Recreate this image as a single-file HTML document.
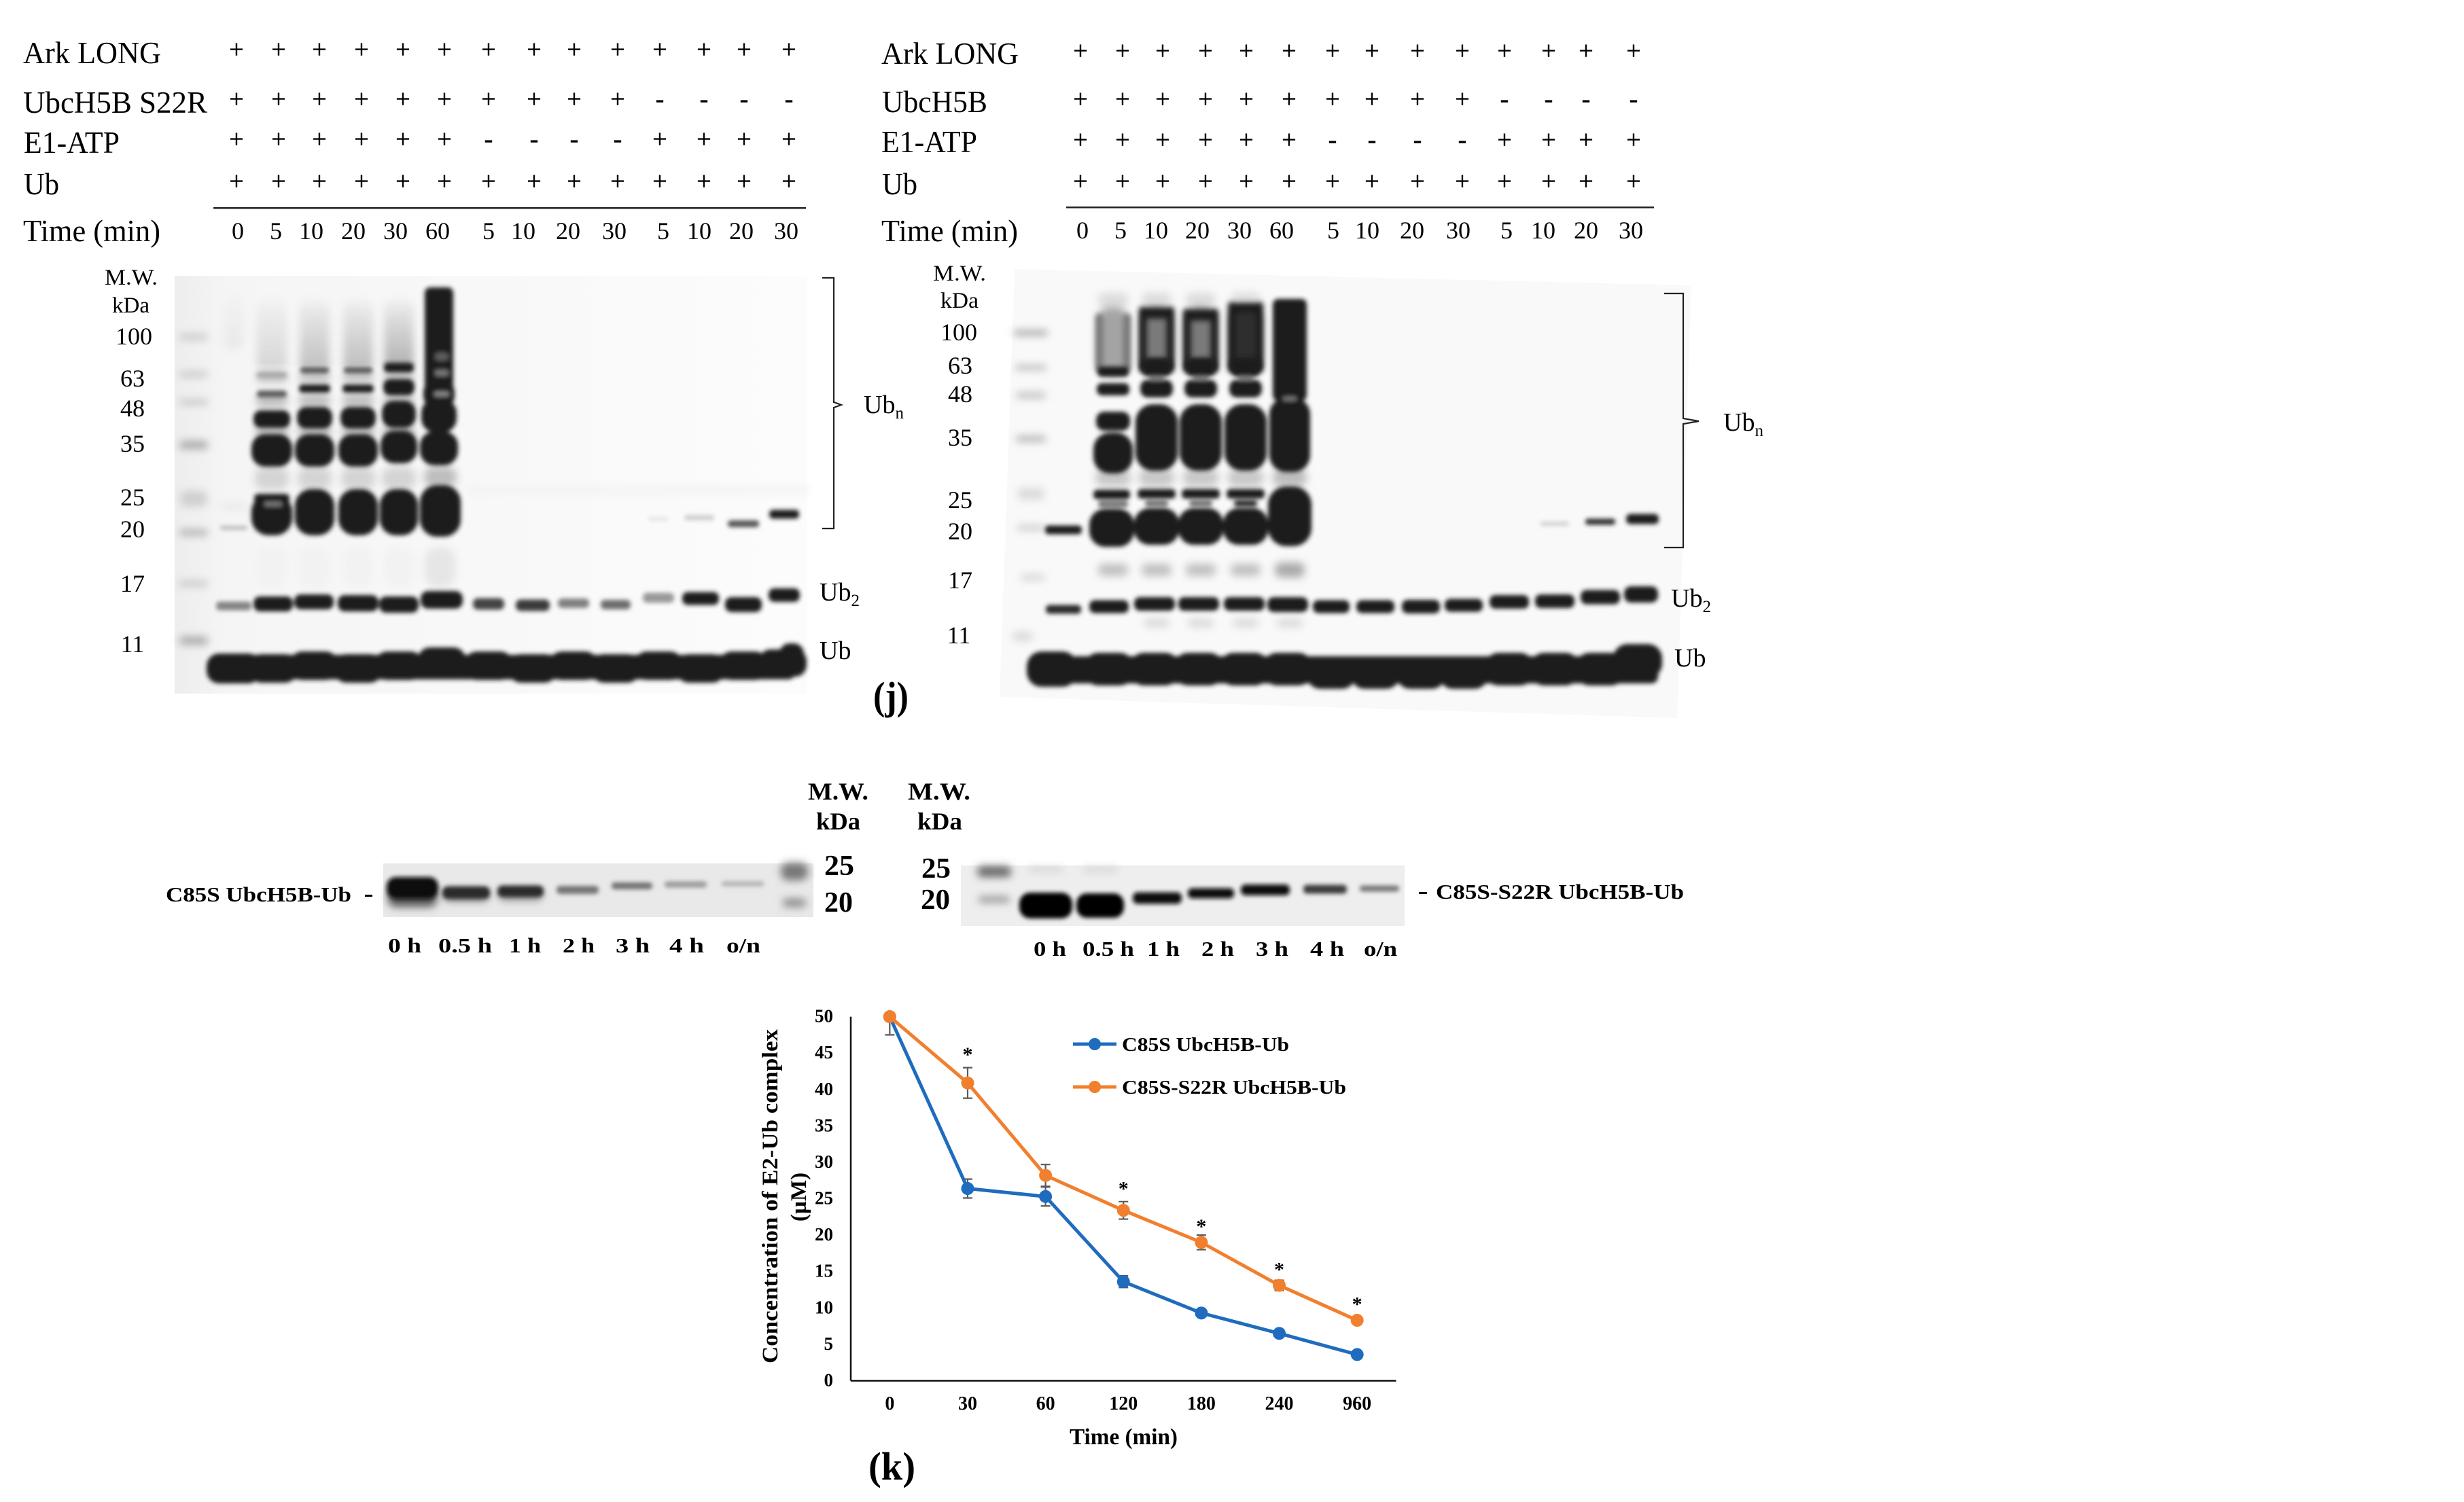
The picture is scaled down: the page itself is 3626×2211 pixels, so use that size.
<!DOCTYPE html>
<html lang="en">
<head>
<meta charset="utf-8">
<title>Ubiquitination blots and E2-Ub discharge chart</title>
<style>
html,body{margin:0;padding:0;background:#fff;}
svg{display:block;}
text{font-family:"Liberation Serif",serif;fill:#000;}
.lab{font-size:45px;}
.sign{font-size:38px;text-anchor:middle;stroke:#000;stroke-width:.5px;}
.tm{font-size:36px;text-anchor:middle;}
.mw{font-size:33px;}
.kd{font-size:36px;text-anchor:middle;}
.bd{font-weight:bold;}
.bt{font-size:31px;font-weight:bold;}
.bn{font-size:42px;font-weight:bold;}
</style>
</head>
<body>
<svg id="page" xmlns="http://www.w3.org/2000/svg" width="3626" height="2211" viewBox="0 0 3626 2211">
<defs>
<filter id="b2" x="-30%" y="-30%" width="160%" height="160%"><feGaussianBlur stdDeviation="3.2"/></filter>
<filter id="b3" x="-40%" y="-30%" width="180%" height="160%"><feGaussianBlur stdDeviation="4"/></filter>
<filter id="b5" x="-30%" y="-30%" width="160%" height="160%"><feGaussianBlur stdDeviation="6"/></filter>
<linearGradient id="lg" x1="0" x2="1" y1="0" y2="0"><stop offset="0" stop-color="#ededed"/><stop offset=".08" stop-color="#f5f5f5"/><stop offset="1" stop-color="#fcfcfc"/></linearGradient>
<linearGradient id="smear" x1="0" x2="0" y1="0" y2="1"><stop offset="0" stop-color="#000" stop-opacity="0"/><stop offset=".25" stop-color="#000" stop-opacity=".1"/><stop offset="1" stop-color="#000" stop-opacity=".32"/></linearGradient>
</defs>
<rect width="3626" height="2211" fill="#fff"/>

<g>
<text class="lab" x="34" y="93" textLength="203" lengthAdjust="spacingAndGlyphs">Ark LONG</text>
<text class="lab" x="34" y="166" textLength="271" lengthAdjust="spacingAndGlyphs">UbcH5B S22R</text>
<text class="lab" x="35" y="225" textLength="141" lengthAdjust="spacingAndGlyphs">E1-ATP</text>
<text class="lab" x="35" y="286" textLength="52" lengthAdjust="spacingAndGlyphs">Ub</text>
<text class="lab" x="34" y="355" textLength="202" lengthAdjust="spacingAndGlyphs">Time (min)</text>
<text class="sign" y="85" x="348 410 470 532 593 654 719 786 845 909 971 1036 1095 1161">++++++++++++++</text>
<text class="sign" y="158" x="348 410 470 532 593 654 719 786 845 909 971 1036 1095 1161">++++++++++----</text>
<text class="sign" y="217" x="348 410 470 532 593 654 719 786 845 909 971 1036 1095 1161">++++++----++++</text>
<text class="sign" y="279" x="348 410 470 532 593 654 719 786 845 909 971 1036 1095 1161">++++++++++++++</text>
<rect x="314" y="305" width="872" height="2.5" fill="#222"/>
<g>
<text class="tm" x="350" y="352">0</text><text class="tm" x="406" y="352">5</text><text class="tm" x="458" y="352">10</text><text class="tm" x="520" y="352">20</text><text class="tm" x="582" y="352">30</text><text class="tm" x="644" y="352">60</text><text class="tm" x="719" y="352">5</text><text class="tm" x="770" y="352">10</text><text class="tm" x="836" y="352">20</text><text class="tm" x="904" y="352">30</text><text class="tm" x="976" y="352">5</text><text class="tm" x="1029" y="352">10</text><text class="tm" x="1091" y="352">20</text><text class="tm" x="1157" y="352">30</text>
</g>
</g>

<g>
<text class="lab" x="1297" y="94" textLength="202" lengthAdjust="spacingAndGlyphs">Ark LONG</text>
<text class="lab" x="1298" y="165" textLength="155" lengthAdjust="spacingAndGlyphs">UbcH5B</text>
<text class="lab" x="1297" y="224" textLength="141" lengthAdjust="spacingAndGlyphs">E1-ATP</text>
<text class="lab" x="1298" y="286" textLength="52" lengthAdjust="spacingAndGlyphs">Ub</text>
<text class="lab" x="1297" y="355" textLength="201" lengthAdjust="spacingAndGlyphs">Time (min)</text>
<text class="sign" y="87" x="1590 1652 1711 1774 1834 1897 1961 2019 2086 2152 2214 2279 2334 2404">++++++++++++++</text>
<text class="sign" y="158" x="1590 1652 1711 1774 1834 1897 1961 2019 2086 2152 2214 2279 2334 2404">++++++++++----</text>
<text class="sign" y="218" x="1590 1652 1711 1774 1834 1897 1961 2019 2086 2152 2214 2279 2334 2404">++++++----++++</text>
<text class="sign" y="279" x="1590 1652 1711 1774 1834 1897 1961 2019 2086 2152 2214 2279 2334 2404">++++++++++++++</text>
<rect x="1569" y="304" width="865" height="2.5" fill="#222"/>
<g>
<text class="tm" x="1593" y="351">0</text><text class="tm" x="1649" y="351">5</text><text class="tm" x="1701" y="351">10</text><text class="tm" x="1762" y="351">20</text><text class="tm" x="1824" y="351">30</text><text class="tm" x="1886" y="351">60</text><text class="tm" x="1962" y="351">5</text><text class="tm" x="2012" y="351">10</text><text class="tm" x="2078" y="351">20</text><text class="tm" x="2146" y="351">30</text><text class="tm" x="2217" y="351">5</text><text class="tm" x="2271" y="351">10</text><text class="tm" x="2334" y="351">20</text><text class="tm" x="2400" y="351">30</text>
</g>
</g>

<g id="gelL">
<rect x="257" y="406" width="931" height="615" fill="url(#lg)"/>
</g>
<g id="gelR">
<polygon points="1493,396 2489,420 2468,1057 1471,1026" fill="#f9f9f9"/>
</g>

<g>
<text class="mw" x="154" y="419" textLength="78" lengthAdjust="spacingAndGlyphs">M.W.</text>
<text class="mw" x="165" y="460" textLength="55" lengthAdjust="spacingAndGlyphs">kDa</text>
<text class="kd" x="197" y="507">100</text>
<text class="kd" x="195" y="569">63</text>
<text class="kd" x="195" y="613">48</text>
<text class="kd" x="195" y="665">35</text>
<text class="kd" x="195" y="744">25</text>
<text class="kd" x="195" y="791">20</text>
<text class="kd" x="195" y="871">17</text>
<text class="kd" x="195" y="960">11</text>
</g>
<g>
<text class="mw" x="1373" y="413" textLength="78" lengthAdjust="spacingAndGlyphs">M.W.</text>
<text class="mw" x="1384" y="453" textLength="56" lengthAdjust="spacingAndGlyphs">kDa</text>
<text class="kd" x="1411" y="501">100</text>
<text class="kd" x="1413" y="550">63</text>
<text class="kd" x="1413" y="592">48</text>
<text class="kd" x="1413" y="656">35</text>
<text class="kd" x="1413" y="748">25</text>
<text class="kd" x="1413" y="794">20</text>
<text class="kd" x="1413" y="866">17</text>
<text class="kd" x="1411" y="947">11</text>
</g>

<path d="M1210 409 H1227 V592 L1238 596 L1227 600 V778 H1210" fill="none" stroke="#222" stroke-width="2.2"/>
<text x="1271" y="608" font-size="38">Ub<tspan font-size="25" dy="8">n</tspan></text>
<text x="1206" y="884" font-size="38">Ub<tspan font-size="25" dy="8">2</tspan></text>
<text x="1206" y="970" font-size="38">Ub</text>
<path d="M2449 432 H2477 V616 L2500 620 L2477 624 V806 H2449" fill="none" stroke="#222" stroke-width="2.2"/>
<text x="2536" y="634" font-size="38">Ub<tspan font-size="25" dy="8">n</tspan></text>
<text x="2459" y="893" font-size="38">Ub<tspan font-size="25" dy="8">2</tspan></text>
<text x="2464" y="981" font-size="38">Ub</text>
<text x="1285" y="1044" font-size="58" font-weight="bold" textLength="52" lengthAdjust="spacingAndGlyphs">(j)</text>

<g id="midL">
<rect x="564" y="1271" width="633" height="79" fill="#e9e9e9"/>
</g>
<g id="midR">
<rect x="1414" y="1274" width="653" height="89" fill="#eeeeee"/>
</g>

<g>
<text class="bt" x="244" y="1327" textLength="273" lengthAdjust="spacingAndGlyphs">C85S UbcH5B-Ub</text>
<rect x="537" y="1317" width="11" height="3" fill="#000"/>
<text class="bt" x="571" y="1402" textLength="49" lengthAdjust="spacingAndGlyphs">0 h</text>
<text class="bt" x="645" y="1402" textLength="79" lengthAdjust="spacingAndGlyphs">0.5 h</text>
<text class="bt" x="749" y="1402" textLength="47" lengthAdjust="spacingAndGlyphs">1 h</text>
<text class="bt" x="828" y="1402" textLength="47" lengthAdjust="spacingAndGlyphs">2 h</text>
<text class="bt" x="906" y="1402" textLength="50" lengthAdjust="spacingAndGlyphs">3 h</text>
<text class="bt" x="985" y="1402" textLength="51" lengthAdjust="spacingAndGlyphs">4 h</text>
<text class="bt" x="1069" y="1402" textLength="50" lengthAdjust="spacingAndGlyphs">o/n</text>
<text class="bn" style="font-size:36px" x="1189" y="1177" textLength="89" lengthAdjust="spacingAndGlyphs">M.W.</text>
<text class="bn" style="font-size:36px" x="1201" y="1221" textLength="65" lengthAdjust="spacingAndGlyphs">kDa</text>
<text class="bn" x="1213" y="1288" textLength="44" lengthAdjust="spacingAndGlyphs">25</text>
<text class="bn" x="1213" y="1342" textLength="42" lengthAdjust="spacingAndGlyphs">20</text>
</g>
<g>
<text class="bn" style="font-size:36px" x="1336" y="1177" textLength="92" lengthAdjust="spacingAndGlyphs">M.W.</text>
<text class="bn" style="font-size:36px" x="1350" y="1221" textLength="66" lengthAdjust="spacingAndGlyphs">kDa</text>
<text class="bn" x="1356" y="1292" textLength="43" lengthAdjust="spacingAndGlyphs">25</text>
<text class="bn" x="1355" y="1338" textLength="43" lengthAdjust="spacingAndGlyphs">20</text>
<rect x="2088" y="1313" width="12" height="3" fill="#000"/>
<text class="bt" x="2113" y="1323" textLength="365" lengthAdjust="spacingAndGlyphs">C85S-S22R UbcH5B-Ub</text>
<text class="bt" x="1521" y="1407" textLength="48" lengthAdjust="spacingAndGlyphs">0 h</text>
<text class="bt" x="1593" y="1407" textLength="76" lengthAdjust="spacingAndGlyphs">0.5 h</text>
<text class="bt" x="1688" y="1407" textLength="48" lengthAdjust="spacingAndGlyphs">1 h</text>
<text class="bt" x="1768" y="1407" textLength="48" lengthAdjust="spacingAndGlyphs">2 h</text>
<text class="bt" x="1848" y="1407" textLength="48" lengthAdjust="spacingAndGlyphs">3 h</text>
<text class="bt" x="1928" y="1407" textLength="50" lengthAdjust="spacingAndGlyphs">4 h</text>
<text class="bt" x="2007" y="1407" textLength="49" lengthAdjust="spacingAndGlyphs">o/n</text>
</g>

<g id="chart">
<text transform="translate(1144 1761) rotate(-90)" text-anchor="middle" font-size="33" font-weight="bold" textLength="492" lengthAdjust="spacingAndGlyphs">Concentration of E2-Ub complex</text>
<text transform="translate(1186 1762) rotate(-90)" text-anchor="middle" font-size="33" font-weight="bold">(µM)</text>
<text x="1574" y="2126" font-size="34" font-weight="bold" textLength="159" lengthAdjust="spacingAndGlyphs">Time (min)</text>
<text x="1278" y="2178" font-size="58" font-weight="bold" textLength="69" lengthAdjust="spacingAndGlyphs">(k)</text>
<g>
<line x1="1579" x2="1643" y1="1537" y2="1537" stroke="#1f6cbf" stroke-width="5"/>
<circle cx="1611" cy="1537" r="9" fill="#1f6cbf"/>
<text x="1651" y="1547" font-size="28" font-weight="bold" textLength="246" lengthAdjust="spacingAndGlyphs">C85S UbcH5B-Ub</text>
<line x1="1579" x2="1643" y1="1600" y2="1600" stroke="#f27f2d" stroke-width="5"/>
<circle cx="1611" cy="1600" r="9" fill="#f27f2d"/>
<text x="1651" y="1610" font-size="28" font-weight="bold" textLength="330" lengthAdjust="spacingAndGlyphs">C85S-S22R UbcH5B-Ub</text>
</g>
</g>
</svg>
<script>
// ---------- chart data ----------
var categories = ['0', '30', '60', '120', '180', '240', '960'];
var yTickLabels = [0, 5, 10, 15, 20, 25, 30, 35, 40, 45, 50];
var c85sValues = [50, 26.4, 25.3, 13.6, 9.3, 6.5, 3.6];
var c85sErrors = [2.5, 1.3, 1.3, 0.8, 0.4, 0.4, 0.3];
var s22rValues = [50, 40.9, 28.2, 23.4, 19, 13.1, 8.3];
var s22rErrors = [0.3, 2.1, 1.5, 1.2, 1, 0.7, 0.3];
var significanceLevels = [null, 45.1, null, 26.7, 21.5, 15.6, 10.8];

var NS = 'http://www.w3.org/2000/svg';
var chart = document.getElementById('chart');
var plot = {left: 1252, right: 2054.5, top: 1496.6, bottom: 2032.5, yMax: 50};
function xScale(i) { return plot.left + (i + 0.5) * (plot.right - plot.left) / categories.length; }
function yScale(v) { return plot.bottom - v / plot.yMax * (plot.bottom - plot.top); }
function svgEl(tag, attrs, parent) {
  var el = document.createElementNS(NS, tag);
  for (var k in attrs) el.setAttribute(k, attrs[k]);
  parent.appendChild(el);
  return el;
}

var yAxis = svgEl('line', {x1: plot.left, x2: plot.left, y1: plot.top, y2: plot.bottom, stroke: '#111', 'stroke-width': 2.5}, chart);


var xAxis = svgEl('line', {x1: plot.left, x2: plot.right, y1: plot.bottom, y2: plot.bottom, stroke: '#111', 'stroke-width': 2.5}, chart);



yTickLabels.forEach(function (v) {
  var t = svgEl('text', {x: 1226, y: yScale(v) + 8, 'text-anchor': 'end', 'font-size': 27, 'font-weight': 'bold'}, chart);
  t.textContent = v;
  
  
});
categories.forEach(function (c, i) {
  var t = svgEl('text', {x: xScale(i), y: 2075, 'text-anchor': 'middle', 'font-size': 28, 'font-weight': 'bold'}, chart);
  t.textContent = c;
  
  
});

function drawSeries(values, errors, color, key) {
  errors.forEach(function (e, i) {
    var x = xScale(i), hi = yScale(Math.min(values[i] + e, plot.yMax)), lo = yScale(values[i] - e);
    var bar = svgEl('path', {d: 'M' + (x - 7) + ' ' + hi + 'H' + (x + 7) + 'M' + x + ' ' + hi + 'V' + lo + 'M' + (x - 7) + ' ' + lo + 'H' + (x + 7), fill: 'none', stroke: '#5a5a5a', 'stroke-width': 2.2}, chart);
    
    
  });
  var pts = values.map(function (v, i) { return xScale(i) + ',' + yScale(v); }).join(' ');
  var line = svgEl('polyline', {points: pts, fill: 'none', stroke: color, 'stroke-width': 5, 'stroke-linejoin': 'round'}, chart);
  
  
  values.forEach(function (v, i) {
    var p = svgEl('circle', {cx: xScale(i), cy: yScale(v), r: 9.5, fill: color}, chart);
    
    
  });
}
drawSeries(c85sValues, c85sErrors, '#1f6cbf', 'c85s');
drawSeries(s22rValues, s22rErrors, '#f27f2d', 'c85s-s22r');

significanceLevels.forEach(function (v, i) {
  if (v === null) return;
  var t = svgEl('text', {x: xScale(i), y: yScale(v) + 13, 'text-anchor': 'middle', 'font-size': 30, 'font-weight': 'bold'}, chart);
  t.textContent = '*';
  
  
});

// ---------- blot painting (image content, not chart marks) ----------
function layer(parentId, filter) {
  var g = svgEl('g', {filter: 'url(#' + filter + ')'}, document.getElementById(parentId));
  
  
  return g;
}
function band(g, cx, cy, w, h, fill, name, rx) {
  var r = svgEl('rect', {x: cx - w / 2, y: cy - h / 2, width: w, height: h, rx: rx === undefined ? Math.min(w, h) * 0.42 : rx, fill: fill}, g);
  
  
  return r;
}
var K = '#1a1a1a';

// left blot
var Ls = layer('gelL', 'b5'), Ld = layer('gelL', 'b2');
band(Ls, 344, 470, 30, 90, 'url(#smear)', 'lane-smear').setAttribute('opacity', '.15');
band(Ls, 344, 745, 40, 14, '#ececec', 'faint-band');
[[400, .45], [463, .75], [527, .8], [587, 1.05]].forEach(function (s) {
  band(Ls, s[0], 495, 44, 120, 'url(#smear)', 'ubn-smear').setAttribute('opacity', s[1]);
  band(Ls, s[0], 556, 46, 14, '#c2c2c2', 'ubn-smear');
  band(Ls, s[0], 590, 46, 20, '#c0c0c0', 'ubn-smear');
  band(Ls, s[0], 635, 48, 12, '#a9a9a9', 'ubn-smear');
  band(Ls, s[0], 704, 50, 34, '#d4d4d4', 'ubn-smear');
  band(Ls, s[0], 835, 44, 60, '#f2f2f2', 'ubn-smear');
});
band(Ls, 648, 835, 46, 60, '#e6e6e6', 'ubn-smear');
band(Ls, 648, 702, 48, 30, '#bdbdbd', 'ubn-smear');
[[263, 496], [263, 551], [263, 592], [263, 655], [263, 734], [263, 784], [263, 859], [263, 943]].forEach(function (m, i) {
  band(Ls, m[0] + 22, m[1], 42, i === 3 || i === 7 ? 12 : 8, i === 3 || i === 5 || i === 7 ? '#a8a8a8' : '#c4c4c4', 'ladder-band');
});
band(Ls, 285, 734, 40, 24, '#d0d0d0', 'ladder-band');
band(Ls, 840, 722, 310, 12, '#f3f3f3', 'faint-band');
band(Ls, 1040, 722, 300, 14, '#f4f4f4', 'faint-band');
// lane 1
band(Ld, 400, 552, 44, 8, '#a8a8a8', 'ubn-band');
band(Ld, 400, 580, 44, 10, '#5c5c5c', 'ubn-band');
band(Ld, 400, 617, 54, 26, K, 'ubn-band');
band(Ld, 400, 663, 60, 48, K, 'ubn-band');
band(Ld, 400, 758, 60, 60, K, 'ubn-band');
band(Ld, 400, 734, 52, 14, K, 'ubn-band');
band(Ld, 402, 742, 26, 7, '#777', 'ubn-band');
// lanes 2, 3
[463, 527].forEach(function (x) {
  band(Ld, x, 545, 42, 9, '#5a5a5a', 'ubn-band');
  band(Ld, x, 572, 46, 12, K, 'ubn-band');
  band(Ld, x, 615, 52, 32, K, 'ubn-band');
  band(Ld, x, 663, 58, 48, K, 'ubn-band');
  band(Ld, x, 754, 58, 68, K, 'ubn-band');
});
// lane 4
band(Ld, 587, 541, 44, 14, K, 'ubn-band');
band(Ld, 587, 570, 46, 24, K, 'ubn-band');
band(Ld, 587, 610, 50, 40, K, 'ubn-band');
band(Ld, 587, 658, 54, 48, K, 'ubn-band');
band(Ld, 587, 754, 56, 68, K, 'ubn-band');
// lane 5
band(Ld, 646, 498, 42, 150, K, 'ubn-band', 8);
band(Ld, 646, 580, 46, 40, K, 'ubn-band');
band(Ld, 646, 612, 52, 50, K, 'ubn-band');
band(Ld, 646, 660, 56, 50, K, 'ubn-band');
band(Ld, 648, 752, 60, 76, K, 'ubn-band');
band(Ld, 650, 525, 20, 12, '#5c5c5c', 'ubn-gap');
band(Ld, 650, 549, 20, 9, '#777', 'ubn-gap');
band(Ld, 650, 580, 22, 7, '#888', 'ubn-gap');
// 20 kDa & Ub2 & Ub
band(Ld, 344, 777, 40, 6, '#bbb', 'e2-ub-band');
band(Ld, 969, 764, 30, 6, '#e6e6e6', 'e2-ub-band');
band(Ld, 1029, 762, 44, 8, '#cfcfcf', 'e2-ub-band');
band(Ld, 1094, 771, 46, 10, '#555', 'e2-ub-band');
band(Ld, 1154, 757, 44, 13, K, 'e2-ub-band');
[[344, 892, 52, 13, '#858585'], [402, 889, 58, 22, K], [462, 886, 58, 22, K], [527, 888, 60, 24, K], [587, 890, 58, 24, K], [650, 883, 62, 26, K],
 [719, 889, 46, 17, '#444'], [784, 891, 50, 17, '#3a3a3a'], [844, 888, 46, 14, '#808080'], [906, 890, 44, 14, '#6d6d6d'], [969, 880, 46, 15, '#9a9a9a'],
 [1031, 881, 54, 19, K], [1094, 890, 54, 22, K], [1154, 876, 46, 20, K]].forEach(function (b) {
  band(Ld, b[0], b[1], b[2], b[3], b[4], 'ub2-band');
});
band(Ld, 344, 984, 80, 44, K, 'ub-band');
band(Ld, 760, 982, 820, 36, K, 'ub-band', 10);
[402, 462, 527, 587, 650, 719, 784, 844, 906, 969, 1031, 1094].forEach(function (x, i) {
  band(Ld, x, i === 4 ? 974 : (i % 2 ? 980 : 984), 70, 42, K, 'ub-band-lane');
});
band(Ld, 1152, 976, 70, 40, K, 'ub-band');
band(Ld, 1165, 966, 36, 38, K, 'ub-band');

// right blot
var Rs = layer('gelR', 'b5'), Rm = layer('gelR', 'b3'), Rd = layer('gelR', 'b2');
[[1638, '#a4a4a4'], [1702, '#7a7a7a'], [1767, '#7a7a7a'], [1833, '#555']].forEach(function (s) {
  band(Rs, s[0], 502, 44, 100, s[1], 'ubn-smear');
  band(Rs, s[0], 442, 44, 22, '#dcdcdc', 'ubn-smear');
  band(Rs, s[0], 703, 52, 26, '#c8c8c8', 'ubn-smear');
  band(Rs, s[0], 839, 44, 18, '#c0c0c0', 'ubn-smear');
});
band(Rs, 1898, 703, 50, 26, '#bcbcbc', 'ubn-smear');
band(Rs, 1898, 839, 44, 22, '#aaa', 'ubn-smear');
[1702, 1767, 1833, 1898].forEach(function (x) {
  band(Rs, x, 917, 38, 12, '#d8d8d8', 'faint-band');
});
band(Rs, 1517, 490, 50, 7, '#999', 'ladder-band');
band(Rs, 1517, 541, 46, 7, '#b2b2b2', 'ladder-band');
band(Rs, 1517, 582, 44, 8, '#b8b8b8', 'ladder-band');
band(Rs, 1517, 646, 44, 8, '#aaa', 'ladder-band');
band(Rs, 1517, 727, 40, 18, '#dcdcdc', 'ladder-band');
band(Rs, 1517, 777, 40, 6, '#bbb', 'ladder-band');
band(Rs, 1520, 850, 36, 8, '#d0d0d0', 'ladder-band');
band(Rs, 1505, 937, 30, 14, '#dadada', 'ladder-band');
// lane edges of the smears
[1638, 1702, 1767, 1833].forEach(function (x, i) {
  var top = [462, 452, 455, 445][i], hgt = 547 - top, c = i === 0 ? '#777' : K;
  band(Rm, x - 20, top + hgt / 2, 12, hgt, c, 'ubn-smear-edge', 4);
  band(Rm, x + 20, top + hgt / 2, 12, hgt, c, 'ubn-smear-edge', 4);
  if (i > 0) band(Rm, x, top + 9, 46, 16, K, 'ubn-smear-edge', 6);
  if (i === 3) band(Rm, x, 505, 30, 90, '#2d2d2d', 'ubn-smear-core', 6);
});
band(Rd, 1638, 547, 46, 15, K, 'ubn-band');
band(Rd, 1638, 573, 48, 18, K, 'ubn-band');
band(Rd, 1638, 620, 50, 28, K, 'ubn-band');
band(Rd, 1638, 667, 58, 60, K, 'ubn-band');
band(Rd, 1636, 728, 54, 14, K, 'ubn-band');
band(Rd, 1638, 742, 44, 10, '#777', 'ubn-band');
band(Rd, 1636, 777, 66, 56, K, 'ubn-band');
[1702, 1767, 1833].forEach(function (x) {
  band(Rd, x, 540, 46, 28, K, 'ubn-band');
  band(Rd, x, 572, 48, 26, K, 'ubn-band');
  band(Rd, x, 644, 62, 98, K, 'ubn-band');
  band(Rd, x, 727, 56, 14, K, 'ubn-band');
  band(Rd, x, 775, 66, 54, K, 'ubn-band');
  band(Rd, x, 741, 34, 8, x === 1833 ? K : '#666', 'ubn-band');
  band(Rd, x, 557, 22, 6, '#888', 'ubn-band');
});
band(Rd, 1898, 515, 50, 150, K, 'ubn-band', 8);
band(Rd, 1898, 640, 60, 110, K, 'ubn-band');
band(Rd, 1898, 760, 64, 88, K, 'ubn-band');
band(Rd, 1898, 587, 20, 6, '#777', 'ubn-band');
band(Rd, 1565, 780, 54, 13, K, 'e2-ub-band');
band(Rd, 2288, 771, 42, 6, '#d0d0d0', 'e2-ub-band');
band(Rd, 2355, 768, 44, 9, '#2e2e2e', 'e2-ub-band');
band(Rd, 2417, 764, 48, 15, K, 'e2-ub-band');
[[1565, 897, 52, 13, '#2a2a2a'], [1632, 893, 58, 19, K], [1699, 889, 60, 20, K], [1764, 889, 60, 20, K], [1831, 889, 60, 20, K], [1895, 890, 60, 22, K],
 [1959, 893, 54, 19, K], [2024, 893, 56, 19, K], [2091, 893, 56, 20, K], [2154, 891, 56, 19, K], [2221, 886, 58, 20, K], [2288, 885, 58, 20, K], [2355, 879, 58, 21, K], [2415, 875, 50, 24, K]].forEach(function (b) {
  band(Rd, b[0], b[1], b[2], b[3], b[4], 'ub2-band');
});
band(Rd, 1980, 986, 920, 40, K, 'ub-band', 10);
band(Rd, 1548, 985, 74, 52, K, 'ub-band');
[1632, 1699, 1764, 1831, 1895, 1959, 2024, 2091, 2154, 2221, 2288, 2355].forEach(function (x, i) {
  band(Rd, x, i > 4 && i < 9 ? 990 : 985, 72, 48, K, 'ub-band-lane');
});
band(Rd, 2410, 973, 72, 50, K, 'ub-band');

// C85S blot
var Ms = layer('midL', 'b5'), Md = layer('midL', 'b2');
band(Ms, 607, 1322, 72, 26, '#555', 'c85s-band');
band(Ms, 686, 1318, 66, 18, '#888', 'c85s-band');
band(Ms, 766, 1318, 64, 16, '#999', 'c85s-band');
band(Md, 607, 1307, 76, 32, '#0d0d0d', 'c85s-band');
band(Md, 686, 1314, 70, 18, '#2c2c2c', 'c85s-band');
band(Md, 766, 1312, 68, 17, '#2a2a2a', 'c85s-band');
band(Md, 850, 1310, 62, 12, '#737373', 'c85s-band');
band(Md, 930, 1304, 60, 10, '#6f6f6f', 'c85s-band');
band(Md, 1009, 1302, 62, 9, '#999', 'c85s-band');
band(Md, 1093, 1301, 62, 7, '#b0b0b0', 'c85s-band');
band(Ms, 1169, 1283, 40, 26, '#777', 'marker-band');
band(Ms, 1169, 1329, 34, 12, '#888', 'marker-band');

// C85S-S22R blot
var Ns = layer('midR', 'b5'), Nd = layer('midR', 'b2');
band(Ns, 1463, 1283, 50, 16, '#666', 'marker-band');
band(Ns, 1463, 1324, 46, 8, '#888', 'marker-band');
band(Ns, 1539, 1280, 50, 5, '#c4c4c4', 'faint-band');
band(Ns, 1619, 1280, 50, 5, '#c4c4c4', 'faint-band');
band(Nd, 1539, 1333, 78, 38, '#050505', 's22r-band');
band(Nd, 1619, 1333, 70, 36, '#050505', 's22r-band');
band(Nd, 1703, 1322, 72, 17, '#0d0d0d', 's22r-band');
band(Nd, 1782, 1315, 68, 15, '#111', 's22r-band');
band(Nd, 1862, 1310, 72, 16, '#111', 's22r-band');
band(Nd, 1950, 1309, 64, 13, '#3a3a3a', 's22r-band');
band(Nd, 2030, 1308, 58, 9, '#777', 's22r-band');
</script>
</body>
</html>
